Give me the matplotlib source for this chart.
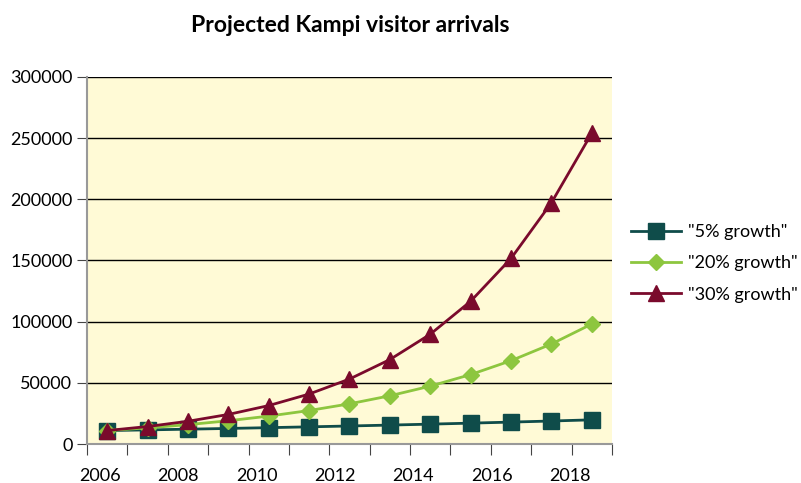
import numpy as np
import matplotlib.pyplot as plt
from matplotlib.ticker import FixedLocator, NullFormatter

plt.rcParams['font.family'] = ['Lato', 'DejaVu Sans']

years = list(range(2006, 2019))
growth5 = [11000, 11550, 12130, 12730, 13370, 14040, 14740, 15480, 16250, 17070, 17920, 18810, 19760]
growth20 = [11000, 13200, 15840, 19010, 22810, 27370, 32850, 39420, 47300, 56760, 68110, 81730, 98080]
growth30 = [11000, 14300, 18590, 24170, 31420, 40840, 53090, 69020, 89730, 116650, 151640, 197130, 254000]
year_labels = ['2006', '2008', '2010', '2012', '2014', '2016', '2018']

fig = plt.figure(figsize=(8.01, 4.83), dpi=100)
ax = fig.add_axes([0.1086, 0.0807, 0.6554, 0.760])
ax.set_facecolor('#FFFAD6')

x = np.arange(len(years))
ax.plot(x, growth5, color='#0F4C4A', lw=2, marker='s', ms=11, label='"5% growth"', zorder=3)
ax.plot(x, growth20, color='#8DC63F', lw=2, marker='D', ms=8, label='"20% growth"', zorder=4)
ax.plot(x, growth30, color='#7A0A2C', lw=2, marker='^', ms=11, label='"30% growth"', zorder=5)

ax.set_xlim(-0.5, 12.5)
ax.set_ylim(0, 300000)
ax.set_yticks(np.arange(0, 300001, 50000))
ax.yaxis.grid(True, color='black', lw=1)
ax.set_axisbelow(True)

# category boundary ticks, labels placed every second year
ax.xaxis.set_major_locator(FixedLocator(np.arange(-0.5, 13, 1)))
ax.xaxis.set_major_formatter(NullFormatter())
ax.xaxis.set_minor_locator(FixedLocator(np.linspace(-0.18, 11.46, len(year_labels))))
ax.set_xticklabels(year_labels, minor=True)
ax.tick_params(axis='x', which='major', length=8, color='#444444', direction='out')
ax.tick_params(axis='x', which='minor', length=0, pad=17, labelsize=13)
ax.tick_params(axis='y', length=7, labelsize=13, color='#444444')

for s in ['top', 'right']:
    ax.spines[s].set_visible(False)
ax.spines['left'].set_color('#999999')
ax.spines['bottom'].set_color('#999999')
ax.spines['left'].set_linewidth(1.5)
ax.spines['bottom'].set_linewidth(1.5)

fig.text(0.437, 0.948, 'Projected Kampi visitor arrivals', ha='center', va='center',
         fontsize=16.5, fontweight='bold')

fig.legend(loc='center left', bbox_to_anchor=(0.768, 0.455), frameon=False,
           fontsize=13, handlelength=2.75, labelspacing=0.85, handletextpad=0.4)

fig.savefig('out.png', dpi=100)
